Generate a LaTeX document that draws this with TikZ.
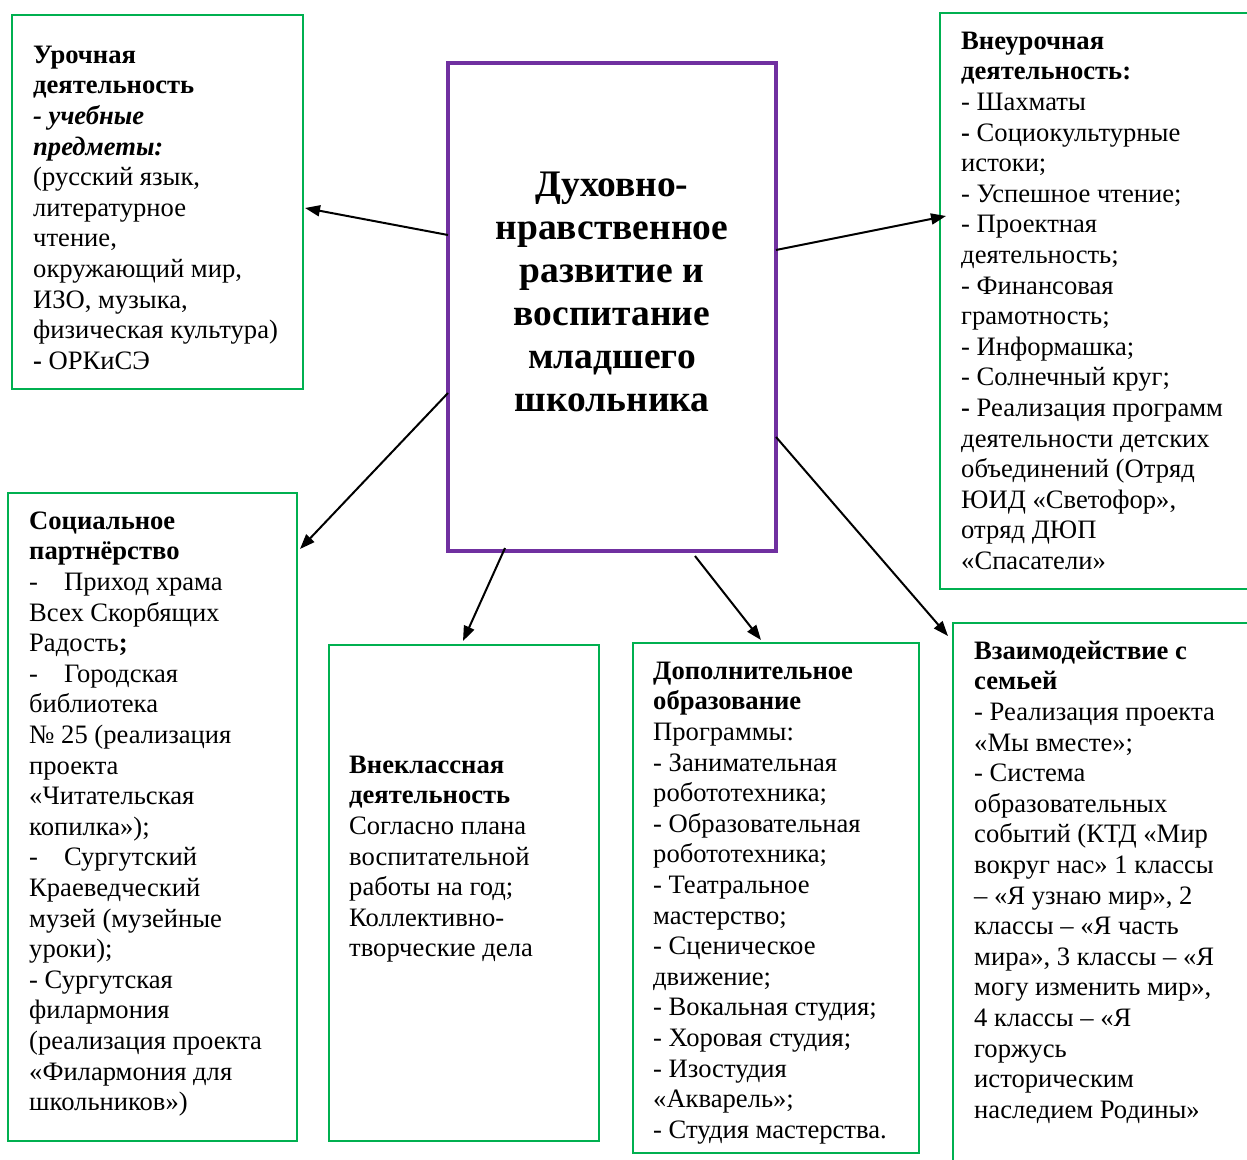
\documentclass[tikz,border=0pt]{standalone}
\usepackage{fontspec}
\setmainfont{Liberation Serif}
\usetikzlibrary{arrows.meta}
\definecolor{gframe}{RGB}{0,176,80}
\definecolor{pframe}{RGB}{112,48,160}
\tikzset{
  gbox/.style={draw=gframe, line width=2pt, anchor=north west, inner sep=0pt, outer sep=0pt},
  pbox/.style={draw=pframe, line width=4pt, anchor=north west, inner sep=0pt, outer sep=0pt},
  txt/.style={anchor=north west, inner sep=0pt, align=left, font=\fontsize{26.6}{30.6}\selectfont},
  ttl/.style={anchor=north, inner sep=0pt, align=center, font=\fontsize{37.5}{43}\selectfont\bfseries},
  arr/.style={line width=2pt, -{Triangle[length=15pt,width=11pt]}},
}
\newcommand{\fs}{\rule{0pt}{20pt}}
\begin{document}
\begin{tikzpicture}[x=1pt,y=-1pt]
\useasboundingbox (0,0) rectangle (1247,1159);
\clip (0,0) rectangle (1247,1159);
% boxes
\node[gbox, minimum width=291pt, minimum height=374pt] (b1) at (12,15) {};
\node[pbox, minimum width=328pt, minimum height=488pt] (c) at (448,63) {};
\node[gbox, minimum width=320pt, minimum height=576pt] (b2) at (940,13) {};
\node[gbox, minimum width=289pt, minimum height=648pt] (b3) at (8,493) {};
\node[gbox, minimum width=270pt, minimum height=496pt] (b4) at (329,645) {};
\node[gbox, minimum width=286pt, minimum height=510pt] (b5) at (633,643) {};
\node[gbox, minimum width=310pt, minimum height=560pt] (b6) at (953,623) {};
% title
\node[ttl] (t) at (612,168) {\rule{0pt}{28pt}Духовно-\\нравственное\\развитие и\\воспитание\\младшего\\школьника};
% texts
\node[txt] (t1) at (33,43) {\fs\textbf{Урочная}\\\textbf{деятельность}\\\textbf{\itshape - учебные}\\\textbf{\itshape предметы:}\\(русский язык,\\литературное\\чтение,\\окружающий мир,\\ИЗО, музыка,\\физическая культура)\\\textbf{-} ОРКиСЭ};
\node[txt] (t2) at (961,29) {\fs\textbf{Внеурочная}\\\textbf{деятельность:}\\- Шахматы\\\textbf{-} Социокультурные\\истоки;\\- Успешное чтение;\\- Проектная\\деятельность;\\- Финансовая\\грамотность;\\- Информашка;\\- Солнечный круг;\\\textbf{-} Реализация программ\\деятельности детских\\объединений (Отряд\\ЮИД «Светофор»,\\отряд ДЮП\\«Спасатели»};
\node[txt] (t3) at (29,509) {\fs\textbf{Социальное}\\\textbf{партнёрство}\\-\hspace{26pt}Приход храма\\Всех Скорбящих\\Радость\textbf{;}\\-\hspace{26pt}Городская\\библиотека\\№ 25 (реализация\\проекта\\«Читательская\\копилка»);\\-\hspace{26pt}Сургутский\\Краеведческий\\музей (музейные\\уроки);\\- Сургутская\\филармония\\(реализация проекта\\«Филармония для\\школьников»)};
\node[txt] (t4) at (349,753) {\fs\textbf{Внеклассная}\\\textbf{деятельность}\\Согласно плана\\воспитательной\\работы на год;\\Коллективно-\\творческие дела};
\node[txt] (t5) at (653,659) {\fs\textbf{Дополнительное}\\\textbf{образование}\\Программы:\\- Занимательная\\робототехника;\\- Образовательная\\робототехника;\\- Театральное\\мастерство;\\- Сценическое\\движение;\\- Вокальная студия;\\- Хоровая студия;\\- Изостудия\\«Акварель»;\\- Студия мастерства.};
\node[txt] (t6) at (974,639) {\fs\textbf{Взаимодействие с}\\\textbf{семьей}\\- Реализация проекта\\«Мы вместе»;\\- Система\\образовательных\\событий (КТД «Мир\\вокруг нас» 1 классы\\– «Я узнаю мир», 2\\классы – «Я часть\\мира», 3 классы – «Я\\могу изменить мир»,\\4 классы – «Я\\горжусь\\историческим\\наследием Родины»};
% connector ends
\coordinate (s1) at (448,235); \coordinate (e1) at (305,208);
\coordinate (s2) at (776,250); \coordinate (e2) at (946,216);
\coordinate (s3) at (448,393); \coordinate (e3) at (300,549);
\coordinate (s4) at (505,548); \coordinate (e4) at (463,641);
\coordinate (s5) at (695,556); \coordinate (e5) at (761,640);
\coordinate (s6) at (776,437); \coordinate (e6) at (948,636);
\draw[arr] (s1) -- (e1);
\draw[arr] (s2) -- (e2);
\draw[arr] (s3) -- (e3);
\draw[arr] (s4) -- (e4);
\draw[arr] (s5) -- (e5);
\draw[arr] (s6) -- (e6);
\end{tikzpicture}
\end{document}
